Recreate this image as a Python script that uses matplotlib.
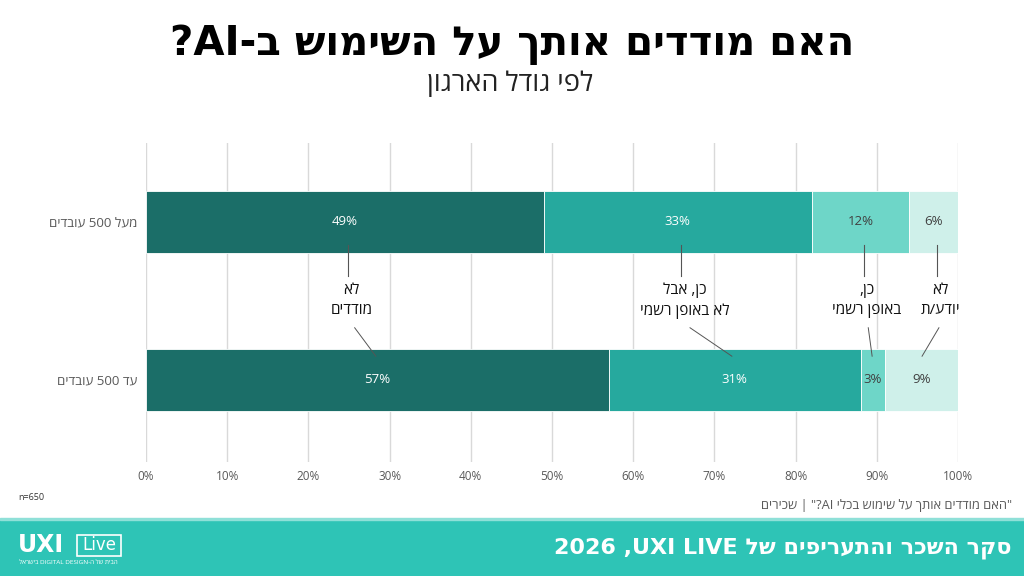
import re
import numpy as np
import matplotlib.pyplot as plt
from matplotlib.patches import Rectangle


def rtl(s):
    # matplotlib has no bidi support: flip Hebrew to visual order, keep latin/digit runs
    r = s[::-1]
    return re.sub(r'[A-Za-z0-9%=]+(?: [A-Za-z0-9%=]+)*', lambda m: m.group(0)[::-1], r)


title = "האם מודדים אותך על השימוש ב-AI?"
subtitle = "לפי גודל הארגון"
groups = ["עד 500 עובדים", "מעל 500 עובדים"]  # bottom, top
answers = ["לא\nמודדים", "כן, אבל\nלא באופן רשמי", "כן,\nבאופן רשמי", "לא\nיודע/ת"]
small_org = [57, 31, 3, 9]
large_org = [49, 33, 12, 6]
colors = ["#1b6e68", "#26a99e", "#6ed6c8", "#cff0ea"]
text_colors = ["white", "white", "#404040", "#404040"]
ticks = np.arange(0, 101, 10)
n_note = "n=650"
footnote = "\"האם מודדים אותך על שימוש בכלי AI?\" | שכירים"
footer = "סקר השכר והתעריפים של UXI LIVE, 2026"
tagline = "הבית של ה-DIGITAL DESIGN בישראל"

body = ["Open Sans", "DejaVu Sans"]
plt.rcParams["font.family"] = body

fig = plt.figure(figsize=(10.24, 5.76), dpi=100)
ax = fig.add_axes([146 / 1024, 1 - 462 / 576, 812 / 1024, 319 / 576])

data = [small_org, large_org]
h = 0.39
for yi, vals in enumerate(data):
    left = 0
    for v, c, tc in zip(vals, colors, text_colors):
        ax.barh(yi, v, left=left, height=h, color=c, edgecolor="white", linewidth=0.6, zorder=2)
        ax.text(left + v / 2, yi, f"{v}%", ha="center", va="center", fontsize=9.5, color=tc, zorder=3)
        left += v

# annotations between the bars
top_left = np.cumsum([0] + large_org[:-1])
bot_left = np.cumsum([0] + small_org[:-1])
for i, lab in enumerate(answers):
    xt = top_left[i] + large_org[i] / 2
    xb = bot_left[i] + small_org[i] / 2
    ax.plot([xt + 0.4, xt + 0.4], [1 - h / 2 + 0.05, 0.66], color="#555555", lw=0.8, zorder=3)
    lines = "\n".join(rtl(l) for l in lab.split("\n"))
    ax.text(xt + 0.8, 0.5, lines, ha="center", va="center", fontsize=11, color="#111111",
            linespacing=1.45, zorder=3)
    xs = xt + 0.8 + (xb - xt) * 0.1
    ax.plot([xs, xb - (xb - xt) * 0.05], [0.33, 0.15], color="#555555", lw=0.7, zorder=3)

ax.set_xlim(0, 100)
ax.set_ylim(-0.52, 1.5)
ax.set_xticks(ticks)
ax.set_xticklabels([f"{t}%" for t in ticks], fontsize=8.5, color="#595959")
ax.set_yticks([0, 1])
ax.set_yticklabels([rtl(g) for g in groups], fontsize=9.5, color="#595959")
ax.grid(axis="x", color="#d9d9d9", lw=1, zorder=0)
ax.tick_params(length=0, pad=6)
for s in ax.spines.values():
    s.set_visible(False)

fig.text(512 / 1024, 1 - 45 / 576, rtl(title), ha="center", va="center", fontsize=29,
         fontweight="bold", color="black", family=["DejaVu Sans"])
fig.text(510 / 1024, 1 - 84 / 576, rtl(subtitle), ha="center", va="center", fontsize=19.5,
         color="#222222")
fig.text(18 / 1024, 1 - 498 / 576, n_note, ha="left", va="center", fontsize=6.5, color="#333333")
fig.text(1012 / 1024, 1 - 506 / 576, rtl(footnote), ha="right", va="center", fontsize=9.3,
         color="#595959")

# footer band
fig.patches.append(Rectangle((0, 0), 1, 56 / 576, transform=fig.transFigure, color="#2ec4b6", zorder=0))
fig.patches.append(Rectangle((0, 56 / 576), 1, 2 / 576, transform=fig.transFigure, color="#8fe0d8", zorder=0))
fig.text(1012 / 1024, 1 - 548 / 576, rtl(footer), ha="right", va="center", fontsize=16,
         fontweight="bold", color="white", family=["DejaVu Sans"])
fig.text(18 / 1024, 1 - 545 / 576, "UXI", ha="left", va="center", fontsize=17,
         fontweight="bold", color="white", family=["DejaVu Sans"])
fig.patches.append(Rectangle((77 / 1024, 1 - 556 / 576), 44 / 1024, 21 / 576, transform=fig.transFigure,
                             facecolor="none", edgecolor="white", lw=1.2, zorder=2))
fig.text(99 / 1024, 1 - 545.5 / 576, "Live", ha="center", va="center", fontsize=12,
         color="white", family=["DejaVu Sans"])
fig.text(19 / 1024, 1 - 563 / 576, rtl(tagline), ha="left", va="center", fontsize=4.6,
         color="white")

fig.savefig("out.png", dpi=100)
